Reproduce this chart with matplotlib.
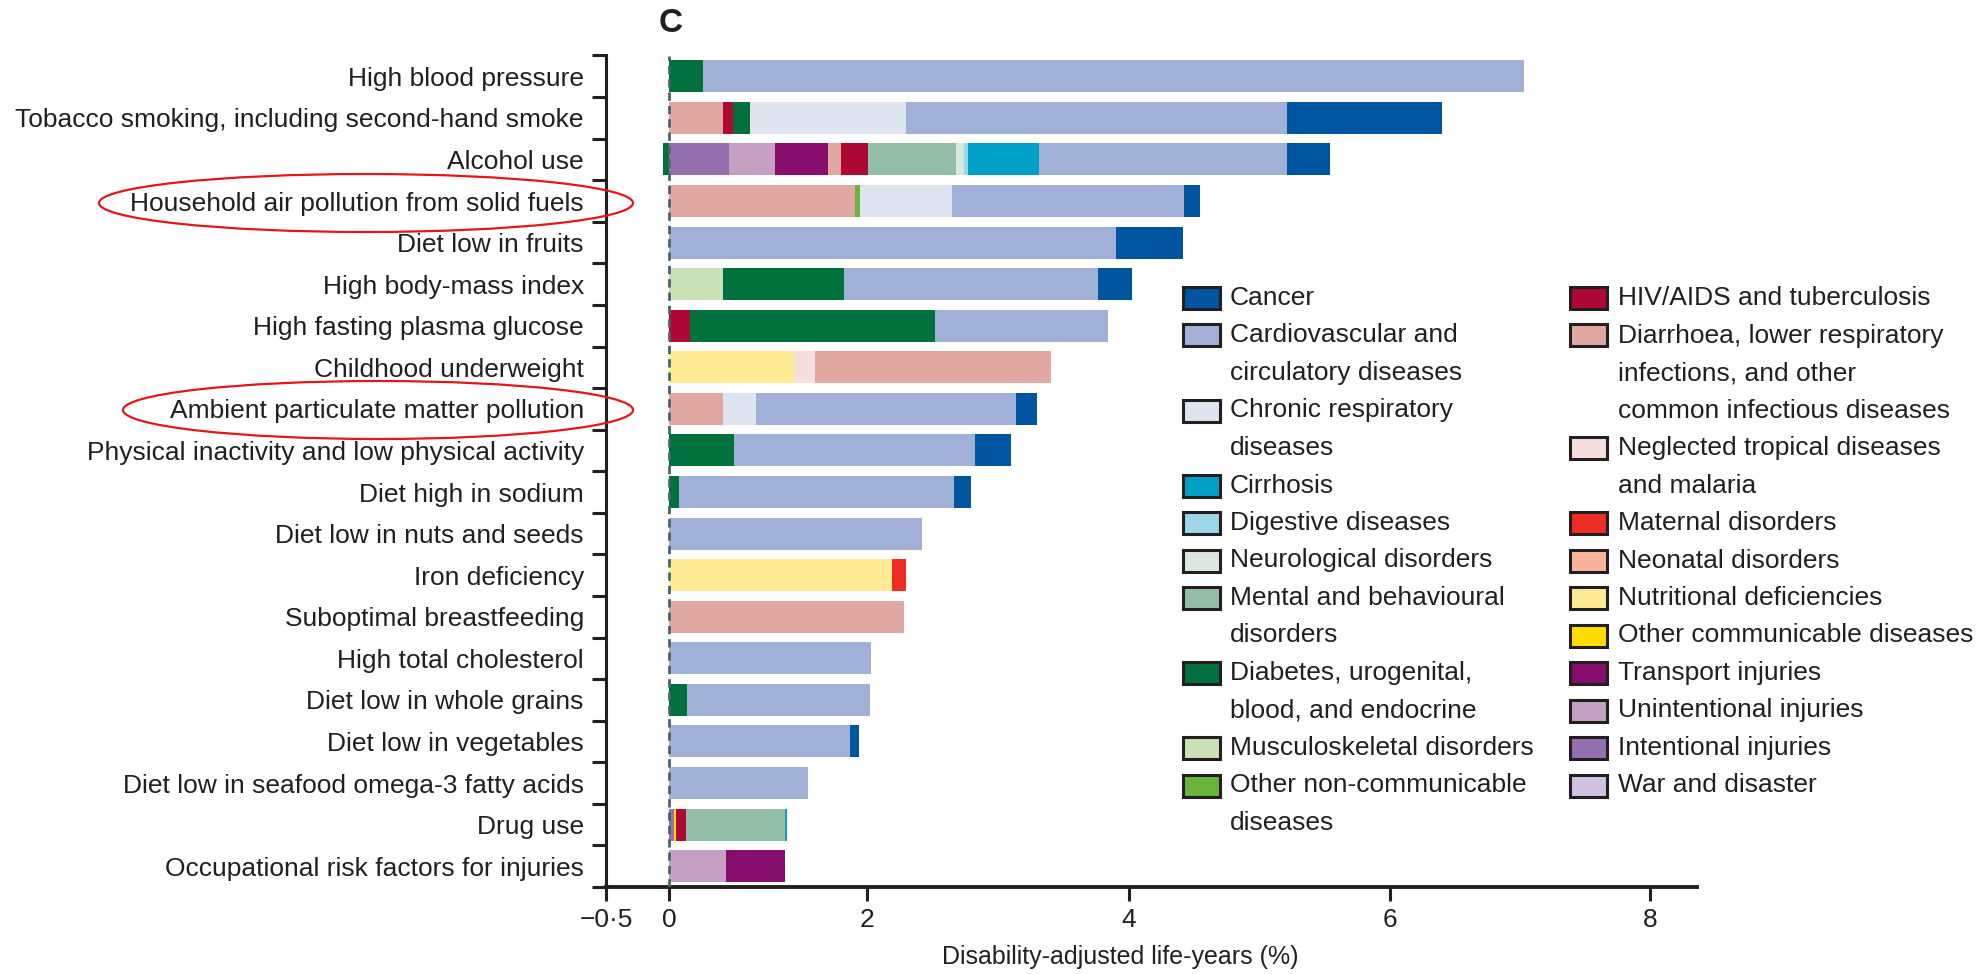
import numpy as np
import matplotlib
matplotlib.use("Agg")
import matplotlib.pyplot as plt
from matplotlib.patches import Rectangle, Ellipse

plt.rcParams['font.family'] = ['Liberation Sans', 'DejaVu Sans']

INK = "#231F20"

risks = [
    "High blood pressure",
    "Tobacco smoking, including second-hand smoke",
    "Alcohol use",
    "Household air pollution from solid fuels",
    "Diet low in fruits",
    "High body-mass index",
    "High fasting plasma glucose",
    "Childhood underweight",
    "Ambient particulate matter pollution",
    "Physical inactivity and low physical activity",
    "Diet high in sodium",
    "Diet low in nuts and seeds",
    "Iron deficiency",
    "Suboptimal breastfeeding",
    "High total cholesterol",
    "Diet low in whole grains",
    "Diet low in vegetables",
    "Diet low in seafood omega-3 fatty acids",
    "Drug use",
    "Occupational risk factors for injuries",
]

# DALYs (%) by cause, one value per risk factor (same order as risks)
intentional =   [0, 0, 0.61, 0, 0, 0, 0, 0, 0, 0, 0, 0, 0, 0, 0, 0, 0, 0, 0.05, 0]
unintentional = [0, 0, 0.46, 0, 0, 0, 0, 0, 0, 0, 0, 0, 0, 0, 0, 0, 0, 0, 0, 0.58]
transport =     [0, 0, 0.54, 0, 0, 0, 0, 0, 0, 0, 0, 0, 0, 0, 0, 0, 0, 0, 0, 0.59]
other_comm =    [0, 0, 0, 0, 0, 0, 0, 0, 0, 0, 0, 0, 0, 0, 0, 0, 0, 0, 0.02, 0]
nutritional =   [0, 0, 0, 0, 0, 0, 0, 1.26, 0, 0, 0, 0, 2.19, 0, 0, 0, 0, 0, 0, 0]
ntd =           [0, 0, 0, 0, 0, 0, 0, 0.21, 0, 0, 0, 0, 0, 0, 0, 0, 0, 0, 0, 0]
maternal =      [0, 0, 0, 0, 0, 0, 0, 0, 0, 0, 0, 0, 0.11, 0, 0, 0, 0, 0, 0, 0]
diarrhoea_lri = [0, 0.54, 0.13, 1.88, 0, 0, 0, 1.93, 0.55, 0, 0, 0, 0, 2.28, 0, 0, 0, 0, 0, 0]
hiv_tb =        [0, 0.11, 0.27, 0, 0, 0, 0.21, 0, 0, 0, 0, 0, 0, 0, 0, 0, 0, 0, 0.10, 0]
musculo =       [0, 0, 0, 0, 0, 0.55, 0, 0, 0, 0, 0, 0, 0, 0, 0, 0, 0, 0, 0, 0]
diabetes =      [0.34, 0.17, -0.05, 0, 0, 1.22, 2.31, 0, 0, 0.66, 0.10, 0, 0, 0, 0, 0.18, 0, 0, 0, 0]
other_ncd =     [0, 0, 0, 0.05, 0, 0, 0, 0, 0, 0, 0, 0, 0, 0, 0, 0, 0, 0, 0, 0]
mental =        [0, 0, 0.67, 0, 0, 0, 0, 0, 0, 0, 0, 0, 0, 0, 0, 0, 0, 0, 1.00, 0]
neuro =         [0, 0, 0.06, 0, 0, 0, 0, 0, 0, 0, 0, 0, 0, 0, 0, 0, 0, 0, 0, 0]
digestive =     [0, 0, 0.03, 0, 0, 0, 0, 0, 0, 0, 0, 0, 0, 0, 0, 0, 0, 0, 0, 0]
cirrhosis =     [0, 0, 0.54, 0, 0, 0, 0, 0, 0, 0, 0, 0, 0, 0, 0, 0, 0, 0, 0.02, 0]
chronic_resp =  [0, 1.48, 0, 0.72, 0, 0, 0, 0, 0.33, 0, 0, 0, 0, 0, 0, 0, 0, 0, 0, 0]
cardio =        [6.69, 2.91, 1.90, 1.77, 3.90, 1.99, 1.32, 0, 2.26, 2.16, 2.56, 2.42, 0, 0,
                 2.03, 1.84, 1.83, 1.40, 0, 0]
cancer =        [0, 1.19, 0.33, 0.12, 0.51, 0.26, 0, 0, 0.16, 0.28, 0.13, 0, 0, 0, 0, 0, 0.09, 0, 0, 0]

colors = {
    "cancer": "#0055A0",
    "cardio": "#A0B0D7",
    "chronic_resp": "#DFE4F1",
    "cirrhosis": "#00A0C6",
    "digestive": "#9DD6E8",
    "neuro": "#DAE8E0",
    "mental": "#93BFA6",
    "diabetes": "#00703C",
    "musculo": "#CAE1B5",
    "other_ncd": "#6AB43E",
    "hiv_tb": "#B00835",
    "diarrhoea_lri": "#E0A8A0",
    "ntd": "#F6E0DE",
    "maternal": "#EE2E24",
    "neonatal": "#F9B49B",
    "nutritional": "#FEEB94",
    "other_comm": "#FFDC00",
    "transport": "#860D6B",
    "unintentional": "#C6A0C2",
    "intentional": "#9570B0",
    "war": "#D0C2E0",
}

stack = [
    ("intentional", intentional), ("unintentional", unintentional),
    ("transport", transport), ("other_comm", other_comm),
    ("nutritional", nutritional), ("ntd", ntd), ("maternal", maternal),
    ("diarrhoea_lri", diarrhoea_lri), ("hiv_tb", hiv_tb), ("musculo", musculo),
    ("diabetes", diabetes), ("other_ncd", other_ncd), ("mental", mental),
    ("neuro", neuro), ("digestive", digestive), ("cirrhosis", cirrhosis),
    ("chronic_resp", chronic_resp), ("cardio", cardio), ("cancer", cancer),
]

legend_left = [
    ("cancer", "Cancer"),
    ("cardio", "Cardiovascular and\ncirculatory diseases"),
    ("chronic_resp", "Chronic respiratory\ndiseases"),
    ("cirrhosis", "Cirrhosis"),
    ("digestive", "Digestive diseases"),
    ("neuro", "Neurological disorders"),
    ("mental", "Mental and behavioural\ndisorders"),
    ("diabetes", "Diabetes, urogenital,\nblood, and endocrine"),
    ("musculo", "Musculoskeletal disorders"),
    ("other_ncd", "Other non-communicable\ndiseases"),
]
legend_right = [
    ("hiv_tb", "HIV/AIDS and tuberculosis"),
    ("diarrhoea_lri", "Diarrhoea, lower respiratory\ninfections, and other\ncommon infectious diseases"),
    ("ntd", "Neglected tropical diseases\nand malaria"),
    ("maternal", "Maternal disorders"),
    ("neonatal", "Neonatal disorders"),
    ("nutritional", "Nutritional deficiencies"),
    ("other_comm", "Other communicable diseases"),
    ("transport", "Transport injuries"),
    ("unintentional", "Unintentional injuries"),
    ("intentional", "Intentional injuries"),
    ("war", "War and disaster"),
]

x_ticks = [-0.5, 0, 2, 4, 6, 8]
x_ticklabels = ["\u22120\u00b75", "0", "2", "4", "6", "8"]

W, H = 1979, 974
fig = plt.figure(figsize=(W / 100, H / 100), dpi=100)
ax = fig.add_axes([606 / W, 87 / H, 1091 / W, 831.5 / H])

# the source figure's axis is unevenly spaced (0-2 is drawn narrower than
# the later intervals), so reproduce it with a piecewise-linear scale
knots = np.array([-1.0, -0.5, 0.0, 2.0, 4.0, 6.0, 8.0, 10.0])
drawn = np.array([-0.97, -0.483, 0.0, 1.517, 3.525, 5.525, 7.517, 9.51])
ax.set_xscale('function', functions=(lambda v: np.interp(v, knots, drawn),
                                     lambda v: np.interp(v, drawn, knots)))

y = np.arange(len(risks))
left = np.zeros(len(risks))
for key, vals in stack:
    vals = np.asarray(vals, dtype=float)
    pos = np.clip(vals, 0, None)
    neg = np.clip(vals, None, 0)
    ax.barh(y, pos, left=left, height=0.77, color=colors[key], linewidth=0)
    if neg.any():
        ax.barh(y, neg, height=0.77, color=colors[key], linewidth=0)
    left += pos

ax.axvline(0, color="#4A6470", linestyle=(0, (3, 1.8)), linewidth=2.0, zorder=4)

ax.set_xlim(-0.5, 8.36)
ax.set_ylim(len(risks) - 0.5, -0.5)

for side in ("top", "right"):
    ax.spines[side].set_visible(False)
ax.spines["left"].set_linewidth(2.2)
ax.spines["bottom"].set_linewidth(2.8)
ax.spines["left"].set_color(INK)
ax.spines["bottom"].set_color(INK)

ax.set_xticks(x_ticks)
ax.set_xticklabels(x_ticklabels)
ax.tick_params(axis="x", direction="out", length=10, width=2.2, color=INK,
               labelsize=19, labelcolor=INK, pad=5)

ax.set_yticks(np.arange(-0.5, len(risks), 1.0))
ax.set_yticklabels([])
ax.set_yticks(y, minor=True)
ax.set_yticklabels(risks, minor=True)
ax.tick_params(axis="y", which="major", direction="out", length=10, width=2.2, color=INK)
ax.tick_params(axis="y", which="minor", length=0, pad=16, labelsize=19, labelcolor=INK)

ax.text(0.4717, -0.084, "Disability-adjusted life-years (%)", transform=ax.transAxes,
        ha="center", va="center", fontsize=18, color=INK)

fig.text(671 / W, 1 - 24 / H, "C", ha="center", va="center", fontsize=24,
         fontweight="bold", color=INK)


def draw_legend(entries, x_handle, x_text, y_first, step=37.5):
    line = 0
    for key, label in entries:
        yc = y_first + line * step
        fig.add_artist(Rectangle((x_handle / W, 1 - (yc + 11) / H), 37 / W, 22 / H,
                                 transform=fig.transFigure, facecolor=colors[key],
                                 edgecolor=INK, linewidth=2.2))
        for part in label.split("\n"):
            fig.text(x_text / W, 1 - (y_first + line * step) / H, part,
                     ha="left", va="center", fontsize=19, color=INK)
            line += 1


draw_legend(legend_left, 1183, 1230, 298)
draw_legend(legend_right, 1570, 1618, 298)

for cx, cy, ew, eh in [(366, 203, 534, 58), (378, 410, 510, 58)]:
    fig.add_artist(Ellipse((cx / W, 1 - cy / H), ew / W, eh / H, transform=fig.transFigure,
                           fill=False, edgecolor="#E3161D", linewidth=1.6))

fig.savefig("out.png", dpi=100)
